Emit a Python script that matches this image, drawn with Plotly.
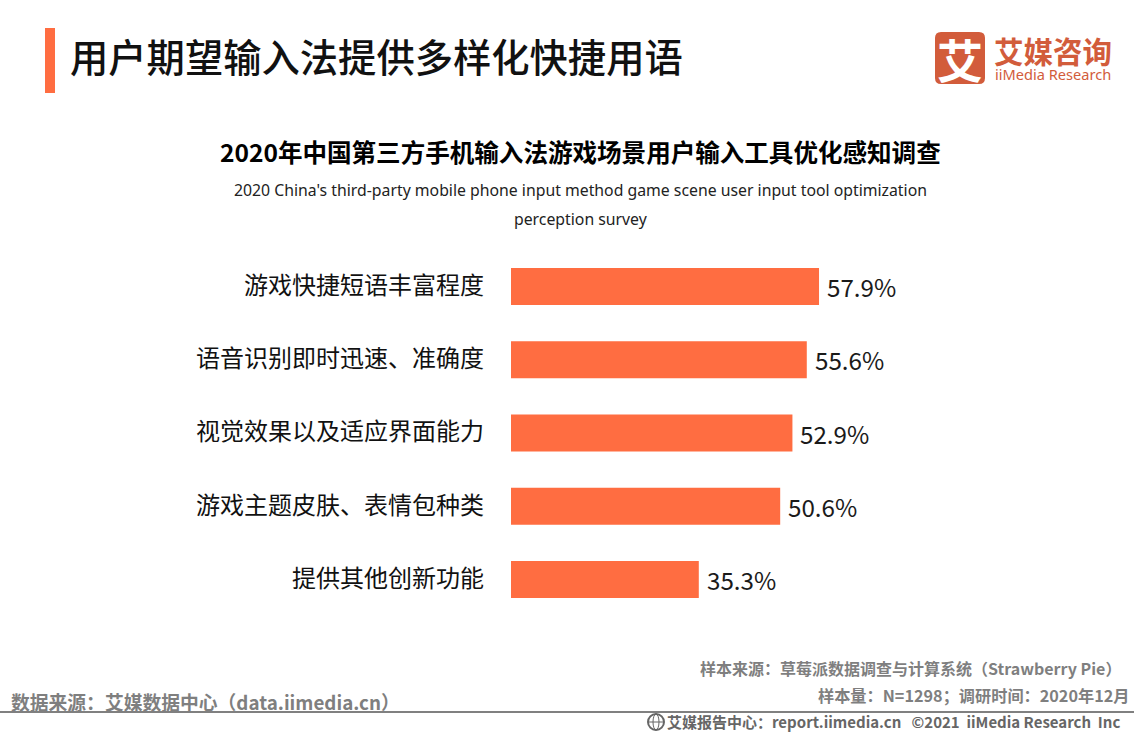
import plotly.graph_objects as go

categories = ["游戏快捷短语丰富程度", "语音识别即时迅速、准确度", "视觉效果以及适应界面能力", "游戏主题皮肤、表情包种类", "提供其他创新功能"]
values = [57.9, 55.6, 52.9, 50.6, 35.3]
value_labels = ["57.9%", "55.6%", "52.9%", "50.6%", "35.3%"]

W, H = 1134, 737
CJK = "Noto Sans CJK SC"
ORANGE = "#FF6D41"
LOGO = "#D25C3B"
GREY = "#7F7F7F"

fig = go.Figure(go.Bar(
    x=values, y=categories, orientation="h", width=0.505,
    marker=dict(color=ORANGE, line=dict(width=0)),
    hoverinfo="skip",
))

for v, cat, lab in zip(values, categories, value_labels):
    fig.add_annotation(
        x=v, y=cat, xref="x", yref="y", text=lab, showarrow=False, xanchor="left", yanchor="middle",
        xshift=7, yshift=0, borderpad=0,
        font=dict(family=CJK, size=24.2, color="#1a1a1a"),
    )


def px(x):
    return x / W


def py(y):
    return 1 - y / H


def note(text, x, y, size, color="#000000", anchor="left", family=CJK, weight=None):
    f = dict(family=family, size=size, color=color)
    if weight:
        f["weight"] = weight
    fig.add_annotation(
        text=text, x=px(x), y=py(y), xref="paper", yref="paper", showarrow=False,
        xanchor=anchor, yanchor="middle", align=anchor, font=f, borderpad=0,
    )


note("用户期望输入法提供多样化快捷用语", 69, 56, 38.3, "#111111", weight=500)
note("<b>2020年中国第三方手机输入法游戏场景用户输入工具优化感知调查</b>", 580.5, 152, 24.55, "#000000", "center")
note("2020 China's third-party mobile phone input method game scene user input tool optimization", 580.5, 190, 15.8, "#222222", "center", "Noto Sans")
note("perception survey", 580.5, 219, 15.8, "#222222", "center", "Noto Sans")

note("<b>艾媒咨询</b>", 993, 50, 29.5, LOGO)
note("iiMedia Research", 994, 74, 14.6, LOGO, "left", "Noto Sans")
note("<b>艾</b>", 959.5, 58, 46, "#FFFFFF", "center")

note("<b>样本来源：草莓派数据调查与计算系统（Strawberry Pie）</b>", 1122, 668, 16, GREY, "right")
note("<b>样本量：N=1298；调研时间：2020年12月</b>", 1130, 695, 16.2, GREY, "right")
note("<b>数据来源：艾媒数据中心（data.iimedia.cn）</b>", 10, 701, 18.8, GREY)
note("<b>艾媒报告中心：report.iimedia.cn   ©2021  iiMedia Research  Inc</b>", 1121, 721, 15, "#666666", "right")

shapes = [
    dict(type="rect", xref="paper", yref="paper", x0=px(45), x1=px(55), y0=py(93), y1=py(28),
         fillcolor=ORANGE, line_width=0),
    dict(type="rect", xref="paper", yref="paper", x0=px(0), x1=px(W), y0=py(713), y1=py(711),
         fillcolor="#808080", line_width=0),
    dict(type="path", xref="paper", yref="paper",
         path=f"M {px(941)} {py(32)} L {px(979)} {py(32)} Q {px(985)} {py(32)} {px(985)} {py(38)} "
              f"L {px(985)} {py(78)} Q {px(985)} {py(84)} {px(979)} {py(84)} L {px(941)} {py(84)} "
              f"Q {px(935)} {py(84)} {px(935)} {py(78)} L {px(935)} {py(38)} Q {px(935)} {py(32)} {px(941)} {py(32)} Z",
         fillcolor=LOGO, line_width=0, layer="below"),
    # footer globe icon
    dict(type="circle", xref="paper", yref="paper", x0=px(648), x1=px(664), y0=py(730), y1=py(714),
         line=dict(color="#666666", width=2)),
    dict(type="circle", xref="paper", yref="paper", x0=px(653), x1=px(659), y0=py(730), y1=py(714),
         line=dict(color="#666666", width=1)),
    dict(type="line", xref="paper", yref="paper", x0=px(648), x1=px(664), y0=py(722), y1=py(722),
         line=dict(color="#666666", width=1)),
]

fig.update_layout(
    width=W, height=H, autosize=False,
    margin=dict(l=0, r=0, t=0, b=0),
    paper_bgcolor="#FFFFFF", plot_bgcolor="#FFFFFF",
    showlegend=False, shapes=shapes,
    xaxis=dict(domain=[511 / W, (511 + 532) / W], range=[0, 100], visible=False),
    yaxis=dict(domain=[1 - 616 / H, 1 - 250 / H], categoryorder="array", categoryarray=categories,
               autorange="reversed", showline=False, ticks="", showgrid=False, zeroline=False,
               ticklabelstandoff=26, ticklabelshift=1,
               tickfont=dict(family=CJK, size=24, color="#111111")),
)

fig.write_html("out.html", config={"displayModeBar": False},
               post_script="document.body.style.margin='0';document.body.style.overflow='hidden';")
